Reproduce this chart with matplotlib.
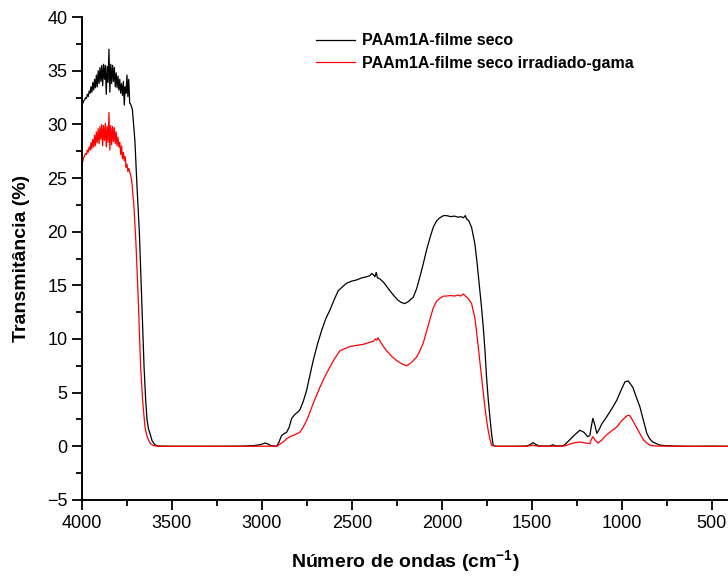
import matplotlib
matplotlib.use("Agg")
import matplotlib.pyplot as plt
from matplotlib.ticker import MultipleLocator

plt.rcParams['font.family'] = ['Liberation Sans', 'DejaVu Sans']
plt.rcParams['mathtext.fontset'] = 'custom'
plt.rcParams['mathtext.rm'] = 'Liberation Sans'
plt.rcParams['mathtext.bf'] = 'Liberation Sans:bold'

# noisy O-H region, 4000 -> 3730 cm-1 every 5 cm-1
wn_noisy = list(range(4000, 3725, -5))
seco_noisy = [31.8, 32.0, 32.2, 32.3, 32.5, 32.4, 32.8, 32.6, 33.1, 32.9,
              33.5, 33.0, 33.9, 33.2, 34.2, 33.4, 34.6, 33.5, 35.0, 33.8,
              35.3, 34.0, 35.5, 33.6, 35.6, 34.2, 35.5, 32.8, 35.4, 33.9,
              37.0, 33.0, 35.6, 33.8, 35.5, 34.0, 35.3, 33.5, 34.8, 33.4,
              34.5, 33.2, 34.2, 32.9, 33.8, 32.7, 34.0, 31.8, 33.5, 32.9,
              34.6, 32.6, 34.2, 32.0, 31.9]
irrad_noisy = [26.3, 26.6, 26.9, 27.1, 27.3, 27.2, 27.6, 27.4, 27.9, 27.6,
               28.3, 27.7, 28.6, 27.9, 29.0, 28.0, 29.3, 28.3, 29.6, 28.2,
               29.8, 28.6, 30.0, 28.0, 29.9, 28.5, 30.1, 27.9, 29.8, 28.3,
               31.1, 27.6, 29.9, 28.1, 29.8, 28.4, 29.7, 28.2, 29.3, 28.0,
               28.8, 27.9, 28.3, 27.2, 28.0, 26.8, 27.4, 26.6, 27.0, 26.0,
               26.3, 25.6, 25.9, 25.6, 25.3]

# rest of the spectrum
wn_seco_rest = [3720, 3706, 3695, 3681, 3668, 3655, 3646, 3638, 3630, 3622,
                3610, 3595, 3578, 3500, 3300, 3100, 3050, 3020, 3000, 2985,
                2970, 2955, 2935, 2918, 2905, 2891, 2875, 2863, 2848, 2835,
                2815, 2800, 2789, 2770, 2752, 2735, 2715, 2690, 2668, 2645,
                2622, 2600, 2576, 2550, 2529, 2500, 2474, 2445, 2418, 2400,
                2390, 2381, 2372, 2365, 2358, 2344, 2320, 2289, 2265, 2243,
                2225, 2206, 2185, 2159, 2140, 2122, 2105, 2085, 2065, 2048,
                2030, 2011, 1990, 1974, 1950, 1930, 1910, 1895, 1880, 1870,
                1863, 1850, 1835, 1817, 1805, 1793, 1780, 1770, 1760, 1752,
                1743, 1733, 1724, 1715, 1700, 1600, 1530, 1510, 1494, 1480,
                1460, 1400, 1383, 1370, 1330, 1317, 1290, 1260, 1233, 1210,
                1190, 1178, 1168, 1161, 1150, 1139, 1125, 1111, 1090, 1067,
                1045, 1028, 1005, 983, 965, 939, 920, 900, 880, 861,
                845, 828, 790, 750, 700, 600, 500, 410]
seco_rest = [31.4, 28.5, 24.5, 19.9, 13.6, 7.4, 4.3, 2.4, 1.6, 1.2,
             0.5, 0.15, 0.03, 0.0, 0.0, 0.02, 0.06, 0.12, 0.2, 0.3,
             0.25, 0.1, 0.03, 0.0, 0.4, 1.0, 1.2, 1.3, 1.8, 2.6,
             3.0, 3.2, 3.4, 4.2, 5.2, 6.5, 8.0, 9.6, 10.8, 11.9,
             12.7, 13.6, 14.5, 14.9, 15.2, 15.4, 15.5, 15.7, 15.8, 15.9,
             16.1, 16.0, 15.8, 16.2, 15.7, 15.6, 15.2, 14.5, 14.0, 13.6,
             13.4, 13.3, 13.5, 13.9, 14.7, 15.8, 16.9, 18.3, 19.5, 20.4,
             21.0, 21.3, 21.5, 21.5, 21.4, 21.45, 21.35, 21.4, 21.3, 21.5,
             21.2, 21.0, 20.4, 18.9, 17.2, 15.2, 13.0, 11.1, 8.8, 6.5,
             4.5, 2.7, 1.2, 0.1, 0.0, 0.0, 0.02, 0.15, 0.34, 0.2,
             0.03, 0.02, 0.15, 0.03, 0.05, 0.15, 0.6, 1.1, 1.5, 1.3,
             0.9, 1.0, 2.0, 2.6, 2.0, 1.2, 1.6, 2.1, 2.6, 3.2,
             3.8, 4.3, 5.2, 6.0, 6.1, 5.5, 4.6, 3.7, 2.4, 1.2,
             0.7, 0.4, 0.12, 0.05, 0.02, 0.0, 0.02, 0.0]

wn_irrad_rest = [3724, 3711, 3700, 3687, 3674, 3663, 3650, 3638, 3622, 3605,
                 3580, 3300, 3100, 2950, 2918, 2900, 2882, 2863, 2844, 2815,
                 2789, 2770, 2752, 2735, 2715, 2695, 2678, 2650, 2622, 2595,
                 2567, 2540, 2511, 2475, 2437, 2400, 2380, 2370, 2363, 2355,
                 2340, 2325, 2307, 2280, 2252, 2225, 2196, 2170, 2141, 2122,
                 2104, 2085, 2067, 2048, 2030, 2011, 1990, 1974, 1950, 1930,
                 1910, 1895, 1880, 1870, 1863, 1850, 1835, 1817, 1808, 1798,
                 1789, 1780, 1770, 1761, 1752, 1743, 1733, 1724, 1700, 1530,
                 1494, 1460, 1320, 1290, 1260, 1233, 1200, 1178, 1170, 1161,
                 1150, 1133, 1110, 1089, 1060, 1028, 1000, 967, 955, 939,
                 920, 900, 880, 861, 840, 800, 600, 410]
irrad_rest = [24.8, 22.3, 18.9, 13.6, 7.4, 4.3, 1.8, 0.9, 0.3, 0.08,
              0.0, 0.0, 0.0, 0.02, 0.0, 0.2, 0.4, 0.7, 0.9, 1.1,
              1.3, 1.8, 2.4, 3.1, 4.0, 4.8, 5.5, 6.5, 7.4, 8.2,
              8.9, 9.1, 9.3, 9.4, 9.5, 9.7, 9.8, 10.0, 9.9, 10.1,
              9.7, 9.3, 8.9, 8.4, 8.0, 7.7, 7.5, 7.8, 8.3, 8.9,
              9.6, 10.7, 11.8, 12.9, 13.5, 13.8, 14.0, 14.0, 14.05, 14.0,
              14.1, 14.0, 14.2, 14.0, 13.9, 13.7, 13.3, 12.0, 10.8, 9.3,
              7.9, 6.5, 5.0, 3.7, 2.5, 1.5, 0.7, 0.1, 0.0, 0.0,
              0.1, 0.0, 0.02, 0.2, 0.35, 0.4, 0.3, 0.25, 0.6, 0.9,
              0.6, 0.3, 0.6, 1.0, 1.4, 1.8, 2.4, 2.9, 2.85, 2.4,
              1.8, 1.2, 0.6, 0.3, 0.08, 0.02, 0.0, 0.0]

wn_seco = wn_noisy + wn_seco_rest
seco = seco_noisy + seco_rest
wn_irrad = wn_noisy + wn_irrad_rest
irrad = irrad_noisy + irrad_rest

fig = plt.figure(figsize=(7.28, 5.78), dpi=100)
ax = fig.add_axes([0.1126, 0.135, 0.8874, 0.8355])

ax.plot(wn_seco, seco, color='black', lw=0.9, label='PAAm1A-filme seco')
ax.plot(wn_irrad, irrad, color='red', lw=0.9, label='PAAm1A-filme seco irradiado-gama')

ax.set_xlim(4000, 410)
ax.set_ylim(-5, 40)
ax.xaxis.set_major_locator(MultipleLocator(500))
ax.xaxis.set_minor_locator(MultipleLocator(250))
ax.yaxis.set_major_locator(MultipleLocator(5))
ax.yaxis.set_minor_locator(MultipleLocator(2.5))

ax.spines['top'].set_visible(False)
ax.spines['right'].set_visible(False)
for s in ('left', 'bottom'):
    ax.spines[s].set_linewidth(1.4)
ax.tick_params(which='major', direction='out', length=7, width=1.3, labelsize=13)
ax.tick_params(which='minor', direction='out', length=4, width=1.3)

ax.set_xlabel('Número de ondas (cm$^{\\mathbf{-1}}$)', fontsize=14, fontweight='bold', labelpad=12)
ax.set_ylabel('Transmitância (%)', fontsize=14, fontweight='bold', labelpad=12)

leg = ax.legend(loc='upper left', bbox_to_anchor=(0.362, 0.966), frameon=False,
                prop={'size': 11.5, 'weight': 'bold'}, handlelength=2.45,
                handletextpad=0.45, labelspacing=0.45, borderaxespad=0, borderpad=0)

fig.savefig('out.png', dpi=100)
